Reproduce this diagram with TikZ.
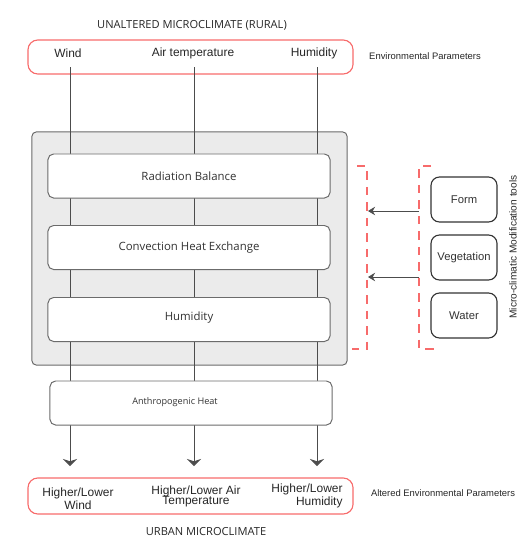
\documentclass[tikz,border=0pt]{standalone}
\usepackage{fontspec}
\setmainfont{Liberation Sans}
\newfontfamily\humfont{Open Sans}
\usepackage{xcolor}
\definecolor{parambd}{rgb}{0.97,0.42,0.42}
\definecolor{panelbg}{rgb}{0.92,0.92,0.92}
\definecolor{panelbd}{rgb}{0.42,0.42,0.42}
\definecolor{flowln}{rgb}{0.3,0.3,0.3}
\usetikzlibrary{arrows.meta}

\begin{document}
\begin{tikzpicture}[
  x=0.025cm, y=-0.025cm,
  param/.style={draw=parambd, line width=0.8pt, rounded corners=7pt,
               minimum width=8.125cm, minimum height=0.85cm},
  panel/.style={draw=panelbd, fill=panelbg, line width=0.7pt, rounded corners=3pt,
               minimum width=7.875cm, minimum height=5.825cm},
  process/.style={draw=panelbd, fill=white, line width=0.7pt, rounded corners=4pt,
                 minimum width=7.05cm, minimum height=1.1cm,
                 text=black!80, font=\humfont\fontsize{8.1}{9}\selectfont},
  tool/.style={draw=black!80, fill=white, line width=0.8pt, rounded corners=6pt,
              minimum width=1.65cm, minimum height=1.125cm,
              text=black!80, font=\fontsize{8}{9}\selectfont},
  var/.style={font=\fontsize{8.5}{9}\selectfont, align=center, inner sep=1pt, text=black!85},
  note/.style={font=\fontsize{6.7}{7}\selectfont, text=black!85},
  head/.style={font=\humfont\fontsize{7.9}{9}\selectfont, text=black!85},
  flow/.style={draw=flowln, line width=0.6pt},
  bracket/.style={draw=parambd, line width=1pt, dash pattern=on 6pt off 5pt},
]
\useasboundingbox (0,0) rectangle (528,539);

% Unaltered microclimate
\node[head] (rural) at (192,25) {UNALTERED MICROCLIMATE (RURAL)};
\node[param] (top) at (190.5,57) {};
\node[var] (wind) at (68,53) {Wind};
\node[var] (air) at (193,53) {Air temperature};
\node[var] (hum) at (314,53) {Humidity};
\node[note] (envp) at (425,56) {Environmental Parameters};

% Urban processes
\node[panel] (panel) at (189.5,248.5) {};

\coordinate (w0) at (70,67);
\coordinate (a0) at (194,67);
\coordinate (h0) at (317,67);
\coordinate (w1) at (70,466);
\coordinate (a1) at (194,466);
\coordinate (h1) at (317,466);
\foreach \s/\e in {w0/w1, a0/a1, h0/h1}
  \draw[flow, -{Stealth[width=10pt, length=5pt]}] (\s) -- (\e);

\node[process] (rad) at (189,176) {Radiation Balance};
\node[process] (conv) at (189,247.5) {Convection Heat Exchange};
\node[process] (humid) at (189,319.5) {\raisebox{5pt}{Humidity}};
\node[process] (anth) at (191,403) {};
\node[font=\humfont\fontsize{6.5}{7}\selectfont, text=black!80] (anthl) at (175,402) {Anthropogenic Heat};

% Modification tools
\node[tool] (form) at (464,199.5) {Form};
\node[tool] (veg) at (464,257.5) {Vegetation};
\node[tool] (water) at (464,315.5) {Water};
\node[font=\fontsize{7.2}{8}\selectfont, text=black!85, rotate=90] (tools) at (513,247) {Micro-climatic Modification tools};

\coordinate (lb1) at (368,211);
\coordinate (lb2) at (368,277);
\coordinate (rb1) at (419,211);
\coordinate (rb2) at (419,277);
\draw[bracket] (357,166) -- (367,166) -- (367,349) -- (352,349);
\draw[bracket] (431,166) -- (419,166) -- (419,349) -- (435,349);
\draw[flow, -{Stealth[width=6pt, length=5pt]}] (rb1) -- (lb1);
\draw[flow, -{Stealth[width=6pt, length=5pt]}] (rb2) -- (lb2);

% Urban microclimate
\node[param, minimum height=0.9cm] (bot) at (190.5,496) {};
\node[var] (windb) at (78,499) {Higher/Lower\\Wind};
\node[var, align=center] (airb) at (196,496) {Higher/Lower Air\\[-2pt]Temperature};
\node[var, align=right] (humb) at (307,496) {Higher/Lower\\Humidity};
\node[note] (altp) at (443,493) {Altered Environmental Parameters};
\node[head] (urban) at (206,532) {URBAN MICROCLIMATE};
\end{tikzpicture}
\end{document}
